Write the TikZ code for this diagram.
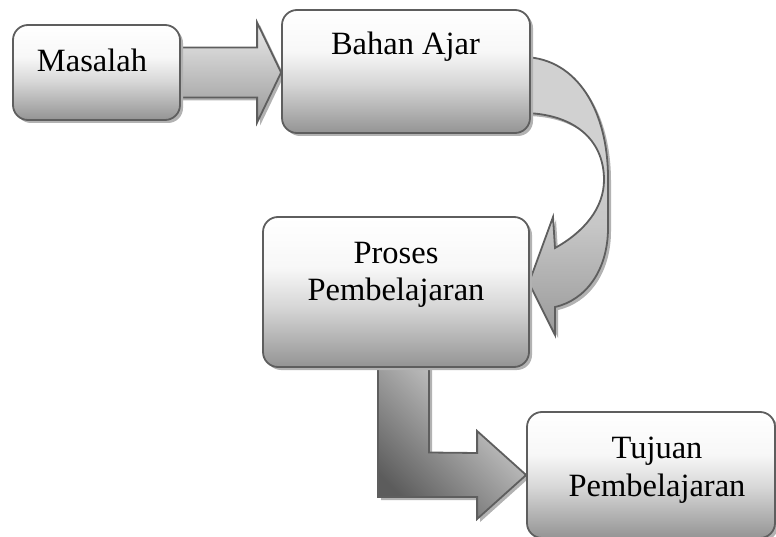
\documentclass[tikz,border=0pt]{standalone}
\usepackage{fontspec}
\setmainfont{Liberation Serif}
\usetikzlibrary{shadows,calc}
\pgfdeclarelayer{bg}
\pgfsetlayers{bg,main}
\pgfdeclareverticalshading{boxshade}{100bp}{color(0bp)=(black!42); color(25bp)=(black!42); color(45bp)=(black!16); color(58bp)=(black!3); color(75bp)=(white); color(100bp)=(white)}
\pgfdeclareverticalshading{curveshade}{100bp}{color(0bp)=(black!40); color(25bp)=(black!40); color(45bp)=(black!22); color(60bp)=(black!18); color(100bp)=(black!18)}
\begin{document}
\begin{tikzpicture}[x=1pt,y=-1pt,
  shad/.style={drop shadow={shadow xshift=3pt,shadow yshift=-3pt,fill=black!30,opacity=1}},
  box/.style={draw=black!63, line width=1.8pt, rounded corners=15pt, shading=boxshade, shad, inner sep=0pt},
  blockarrow/.style={draw=black!63, line width=1.8pt, line join=miter, shad},
  lbl/.style={font=\fontsize{32.5}{37.5}\selectfont, inner sep=0pt, align=center}]
\useasboundingbox (0,0) rectangle (776,537);

% boxes
\node[box, minimum width=167pt, minimum height=95pt] (masalah) at (96.5,72.5) {};
\node[box, minimum width=248pt, minimum height=123pt] (bahan) at (406,71.5) {};
\node[box, minimum width=266pt, minimum height=150pt] (proses) at (396,292) {};
\node[box, minimum width=248pt, minimum height=126pt] (tujuan) at (651,475) {};

% texts
\node[lbl, anchor=base] (masalah-t) at (92,71.5) {Masalah};
\node[lbl, anchor=base] (bahan-t) at (405.5,55) {Bahan Ajar};
\node[lbl, anchor=north] (proses-t) at (396,242) {Proses\\Pembelajaran};
\node[lbl, anchor=north] (tujuan-t) at (657,437) {Tujuan\\Pembelajaran};

\begin{pgfonlayer}{bg}
% arrow Masalah -> Bahan Ajar
\coordinate (t1) at (bahan.west |- masalah.east);
\draw[blockarrow, top color=black!8, bottom color=black!40]
  ($(masalah.east)+(-6,-25)$) -- ($(t1)+(-24,-25)$) -- ($(t1)+(-24,-50)$) -- (t1)
  -- ($(t1)+(-24,50)$) -- ($(t1)+(-24,25)$) -- ($(masalah.east)+(-6,25)$) -- cycle;

% curved arrow Bahan Ajar -> Proses
\coordinate (s2) at (bahan.east);
\coordinate (t2) at ($(proses.east)+(-1,-9)$);
\draw[blockarrow, shading=curveshade]
  ($(s2)+(-6,-14.5)$) .. controls (578,59) and (608,112) .. (608,178)
  -- (608,228) .. controls (608,270) and (586,300) .. (555,307)
  -- (555,335) -- (t2) -- (553,217) -- (555,248)
  .. controls (584,232) and (604,208) .. (604,180)
  .. controls (604,138) and (572,114) .. ($(s2)+(-6,41.5)$) -- cycle;

% bent arrow Proses -> Tujuan
\coordinate (t3) at (tujuan.west);
\draw[blockarrow, shading=axis, top color=black!12, middle color=black!22, bottom color=black!64, shading angle=-45]
  ($(proses.south)+(-18,-6)$) -- ($(proses.south)+(33,-6)$) -- (429,452.5)
  -- ($(t3)+(-49,-22)$) -- ($(t3)+(-49,-44)$) -- (t3) -- ($(t3)+(-49,44)$)
  -- ($(t3)+(-49,22)$) -- (378,497) -- cycle;
\end{pgfonlayer}
\end{tikzpicture}
\end{document}
